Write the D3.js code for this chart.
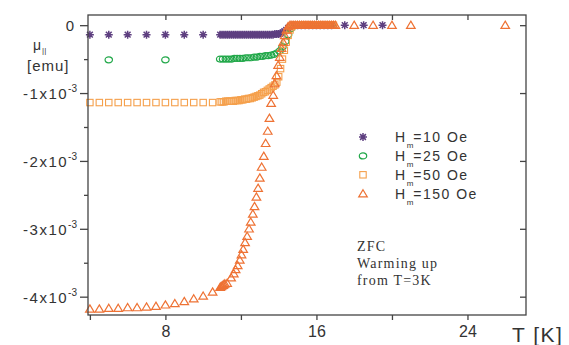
<!DOCTYPE html>
<html>
<head>
<meta charset="utf-8">
<script src="https://cdn.jsdelivr.net/npm/d3@7"></script>
<style>
  body { margin: 0; background: #fff; }
  svg { display: block; }
  .sans { font-family: "Liberation Sans", Arial, sans-serif; fill: #333; }
  .serif { font-family: "Liberation Serif", "Times New Roman", serif; fill: #333; }
</style>
</head>
<body>
<div id="chart"></div>
<script>
// magnetic moment in units of 1e-3 emu, temperature in K
var h10 = [
  [4,-0.14],[5,-0.14],[6,-0.14],[7,-0.14],[8,-0.14],[9,-0.14],[10,-0.14],
  [10.9,-0.14],[11.0,-0.14],[11.1,-0.14],[11.2,-0.14],[11.3,-0.14],[11.4,-0.14],[11.5,-0.14],
  [11.6,-0.14],[11.7,-0.14],[11.8,-0.14],[11.9,-0.14],[12.0,-0.14],[12.1,-0.14],[12.2,-0.14],
  [12.3,-0.14],[12.4,-0.14],[12.5,-0.14],[12.6,-0.14],[12.7,-0.14],[12.8,-0.14],[12.9,-0.14],
  [13.0,-0.14],[13.1,-0.14],[13.2,-0.14],[13.3,-0.14],[13.4,-0.14],[13.5,-0.14],[13.6,-0.14],
  [13.7,-0.14],[13.8,-0.13],[13.9,-0.13],[14.0,-0.13],[14.1,-0.12],[14.2,-0.11],[14.3,-0.09],
  [14.4,-0.07],[14.5,-0.04],[14.6,-0.02],[14.7,-0.01],[14.8,0],[15.0,0],[15.2,0],[15.4,0],
  [15.6,0],[15.8,0],[16.0,0],[16.2,0],[16.4,0],[16.6,0],[16.8,0],
  [17.5,0],[18.5,0],[19.5,0]
];
var h25 = [
  [5,-0.51],[8,-0.51],
  [10.9,-0.50],[11.05,-0.50],[11.2,-0.50],[11.35,-0.50],[11.5,-0.50],[11.65,-0.49],[11.8,-0.49],
  [11.95,-0.49],[12.1,-0.49],[12.25,-0.48],[12.4,-0.48],[12.55,-0.48],[12.7,-0.47],[12.85,-0.47],
  [13.0,-0.46],[13.15,-0.46],[13.3,-0.45],[13.45,-0.45],[13.6,-0.44],[13.75,-0.43],[13.9,-0.41],
  [14.05,-0.38],[14.2,-0.32],[14.35,-0.24],[14.5,-0.14],[14.65,-0.05],[14.8,0],[15.0,0],[15.2,0],
  [15.4,0],[15.6,0],[15.8,0],[16.0,0],[16.2,0],[16.4,0],[16.6,0],[16.8,0]
];
var h50 = [
  [4.0,-1.14],[4.5,-1.14],[5.0,-1.14],[5.5,-1.14],[6.0,-1.14],[6.5,-1.14],[7.0,-1.14],
  [7.5,-1.14],[8.0,-1.14],[8.5,-1.14],[9.0,-1.14],[9.5,-1.14],[10.0,-1.14],[10.5,-1.14],
  [10.9,-1.13],[11.0,-1.13],[11.1,-1.13],[11.2,-1.12],[11.3,-1.12],[11.4,-1.12],[11.5,-1.12],
  [11.6,-1.12],[11.7,-1.11],[11.8,-1.11],[11.9,-1.11],[12.0,-1.10],[12.1,-1.10],[12.2,-1.09],
  [12.3,-1.09],[12.4,-1.08],[12.5,-1.08],[12.6,-1.07],[12.7,-1.06],[12.8,-1.05],[12.9,-1.04],
  [13.0,-1.03],[13.1,-1.01],[13.2,-0.99],[13.3,-0.98],[13.4,-0.96],[13.5,-0.94],[13.6,-0.92],
  [13.7,-0.90],[13.8,-0.88],[13.9,-0.84],[14.0,-0.76],[14.1,-0.64],[14.2,-0.50],[14.3,-0.37],
  [14.4,-0.25],[14.5,-0.15],[14.6,-0.07],[14.7,-0.02],[14.8,0],[14.9,0],[15.0,0],[15.1,0],
  [15.2,0],[15.3,0],[15.4,0],[15.5,0],[15.6,0],[15.7,0],[15.8,0],[15.9,0],[16.0,0],[16.1,0],
  [16.2,0],[16.3,0],[16.4,0],[16.5,0],[16.6,0],[16.7,0],[16.8,0],[16.9,0]
];
var h150 = [
  [4.0,-4.18],[4.5,-4.18],[5.0,-4.17],[5.5,-4.17],[6.0,-4.16],[6.5,-4.16],[7.0,-4.15],
  [7.5,-4.14],[8.0,-4.12],[8.5,-4.10],[9.0,-4.07],[9.5,-4.03],[10.0,-3.99],[10.5,-3.93],
  [10.9,-3.86],[10.95,-3.85],[11.0,-3.84],[11.05,-3.83],[11.1,-3.82],[11.15,-3.81],[11.27,-3.80],
  [11.48,-3.72],[11.62,-3.66],[11.72,-3.60],[11.83,-3.54],[11.94,-3.46],[12.03,-3.38],[12.12,-3.30],
  [12.22,-3.20],[12.33,-3.11],[12.43,-3.00],[12.52,-2.90],[12.63,-2.78],[12.72,-2.67],[12.82,-2.53],
  [12.91,-2.40],[13.0,-2.25],[13.1,-2.09],[13.21,-1.93],[13.31,-1.74],[13.42,-1.56],[13.51,-1.37],
  [13.6,-1.15],[13.71,-1.03],[13.79,-0.86],[13.88,-0.74],[13.97,-0.59],[14.06,-0.47],[14.15,-0.34],
  [14.24,-0.25],[14.32,-0.15],[14.41,-0.07],[14.5,-0.02],[14.6,0],[14.7,0],[14.8,0],[14.9,0],
  [15.0,0],[15.1,0],[15.2,0],[15.3,0],[15.4,0],[15.5,0],[15.6,0],[15.7,0],[15.8,0],[15.9,0],
  [16.0,0],[16.1,0],[16.2,0],[16.3,0],[16.4,0],[16.5,0],[16.6,0],[16.7,0],[16.8,0],[16.9,0],
  [17,0],[18,0],[19,0],[20,0],[21,0],[26,0]
];

var legendLabels = ["=10 Oe", "=25 Oe", "=50 Oe", "=150 Oe"];
var xTicks = [4, 8, 12, 16, 20, 24];
var xLabelled = [8, 16, 24];
var yMajor = [0, -1, -2, -3, -4];
var yMinor = [-0.5, -1.5, -2.5, -3.5];
var noteLines = ["ZFC", "Warming up", "from T=3K"];

var W = 569, H = 345;
var svg = d3.select("#chart").append("svg").attr("width", W).attr("height", H);

var x = d3.scaleLinear().domain([3.9, 27.1]).range([88, 526]);
var y = d3.scaleLinear().domain([0.15, -4.27]).range([15, 315]);

var axisColor = "#444";

// marker shapes
function star(g, c) {
  g.append("path")
    .attr("d", "M-4,0H4M0,-4V4M-2.9,-2.9L2.9,2.9M-2.9,2.9L2.9,-2.9")
    .attr("stroke", c).attr("stroke-width", 1.5).attr("fill", "none");
}
function ring(g, c) {
  g.append("ellipse").attr("rx", 3.7).attr("ry", 3)
    .attr("stroke", c).attr("stroke-width", 1.2).attr("fill", "none");
}
function box(g, c) {
  g.append("rect").attr("x", -3.2).attr("y", -3.2).attr("width", 6.4).attr("height", 6.4)
    .attr("stroke", c).attr("stroke-width", 1.1).attr("fill", "none");
}
function tri(g, c) {
  g.append("path").attr("d", "M0,-4L4.3,3.2H-4.3Z")
    .attr("stroke", c).attr("stroke-width", 1.2).attr("fill", "none");
}

var series = [
  { data: h10, color: "#5e3f80", draw: star },
  { data: h25, color: "#22a84a", draw: ring },
  { data: h50, color: "#f5a04c", draw: box },
  { data: h150, color: "#ee7234", draw: tri }
];

var plot = svg.append("g");
series.forEach(function (s) {
  plot.append("g").selectAll("g")
    .data(s.data)
    .enter().append("g")
    .attr("transform", function (d) { return "translate(" + x(d[0]) + "," + y(d[1]) + ")"; })
    .each(function () { s.draw(d3.select(this), s.color); });
});

// frame
svg.append("rect").attr("x", 88).attr("y", 15).attr("width", 438).attr("height", 300)
  .attr("fill", "none").attr("stroke", axisColor).attr("stroke-width", 1.3);

function styleAxis(g) {
  g.select(".domain").remove();
  g.selectAll(".tick line").attr("stroke", axisColor).attr("stroke-width", 1.3);
}

svg.append("g").attr("transform", "translate(0,315)")
  .call(d3.axisBottom(x).tickValues(xTicks).tickSize(5).tickPadding(6)
    .tickFormat(function (d) { return xLabelled.indexOf(d) >= 0 ? d : ""; }))
  .call(styleAxis)
  .selectAll("text").attr("class", "sans").style("font-size", "16px").attr("fill", "#333")
  .style("font-family", "'Liberation Sans', Arial, sans-serif");

svg.append("g").attr("transform", "translate(0,15)")
  .call(d3.axisBottom(x).tickValues(xTicks.slice(1)).tickSize(5).tickFormat(""))
  .call(styleAxis);

svg.append("g").attr("transform", "translate(88,0)")
  .call(d3.axisLeft(y).tickValues(yMajor).tickSize(8).tickFormat(""))
  .call(styleAxis);
svg.append("g").attr("transform", "translate(88,0)")
  .call(d3.axisLeft(y).tickValues(yMinor).tickSize(4).tickFormat(""))
  .call(styleAxis);
svg.append("g").attr("transform", "translate(526,0)")
  .call(d3.axisLeft(y).tickValues(yMajor).tickSize(6).tickFormat(""))
  .call(styleAxis);

// y tick labels with superscript exponent
yMajor.forEach(function (v) {
  var t = svg.append("text").attr("class", "sans")
    .attr("x", v === 0 ? 74 : 77).attr("y", y(v) + 6)
    .attr("text-anchor", "end").style("font-size", "15px");
  if (v === 0) {
    t.text("0");
  } else {
    t.append("tspan").style("letter-spacing", "1.5px").text(v + "x10");
    t.append("tspan").attr("dy", -7).style("font-size", "10px").text("-3");
  }
});

// y axis title
var yt = svg.append("text").attr("class", "sans").attr("x", 33).attr("y", 50).style("font-size", "14px");
yt.append("tspan").text("\u03bc");
yt.append("tspan").attr("dy", 3).attr("dx", 1).style("font-size", "8px").text("||");
svg.append("text").attr("class", "sans").attr("x", 27).attr("y", 71)
  .style("font-size", "15px").style("letter-spacing", "1px").text("[emu]");

// x axis title
svg.append("text").attr("class", "sans").attr("x", 512).attr("y", 342)
  .style("font-size", "21px").style("letter-spacing", "1.5px").text("T [K]");

// legend
var legend = svg.append("g");
series.forEach(function (s, i) {
  var row = legend.append("g").attr("transform", "translate(363," + (137 + i * 18.9) + ")");
  s.draw(row, s.color);
  var t = row.append("text").attr("class", "sans").attr("x", 32).attr("y", 5)
    .style("font-size", "14px").style("letter-spacing", "1.5px");
  t.append("tspan").text("H");
  t.append("tspan").attr("dy", 6).style("font-size", "8px").style("letter-spacing", "0px").text("m");
  t.append("tspan").attr("dy", -6).text(legendLabels[i]);
});

// note
svg.append("g").selectAll("text")
  .data(noteLines)
  .enter().append("text")
  .attr("class", "serif")
  .attr("x", 357)
  .attr("y", function (d, i) { return 251 + i * 17; })
  .style("font-size", "14px").style("letter-spacing", "1.2px")
  .text(function (d) { return d; });
</script>
</body>
</html>
